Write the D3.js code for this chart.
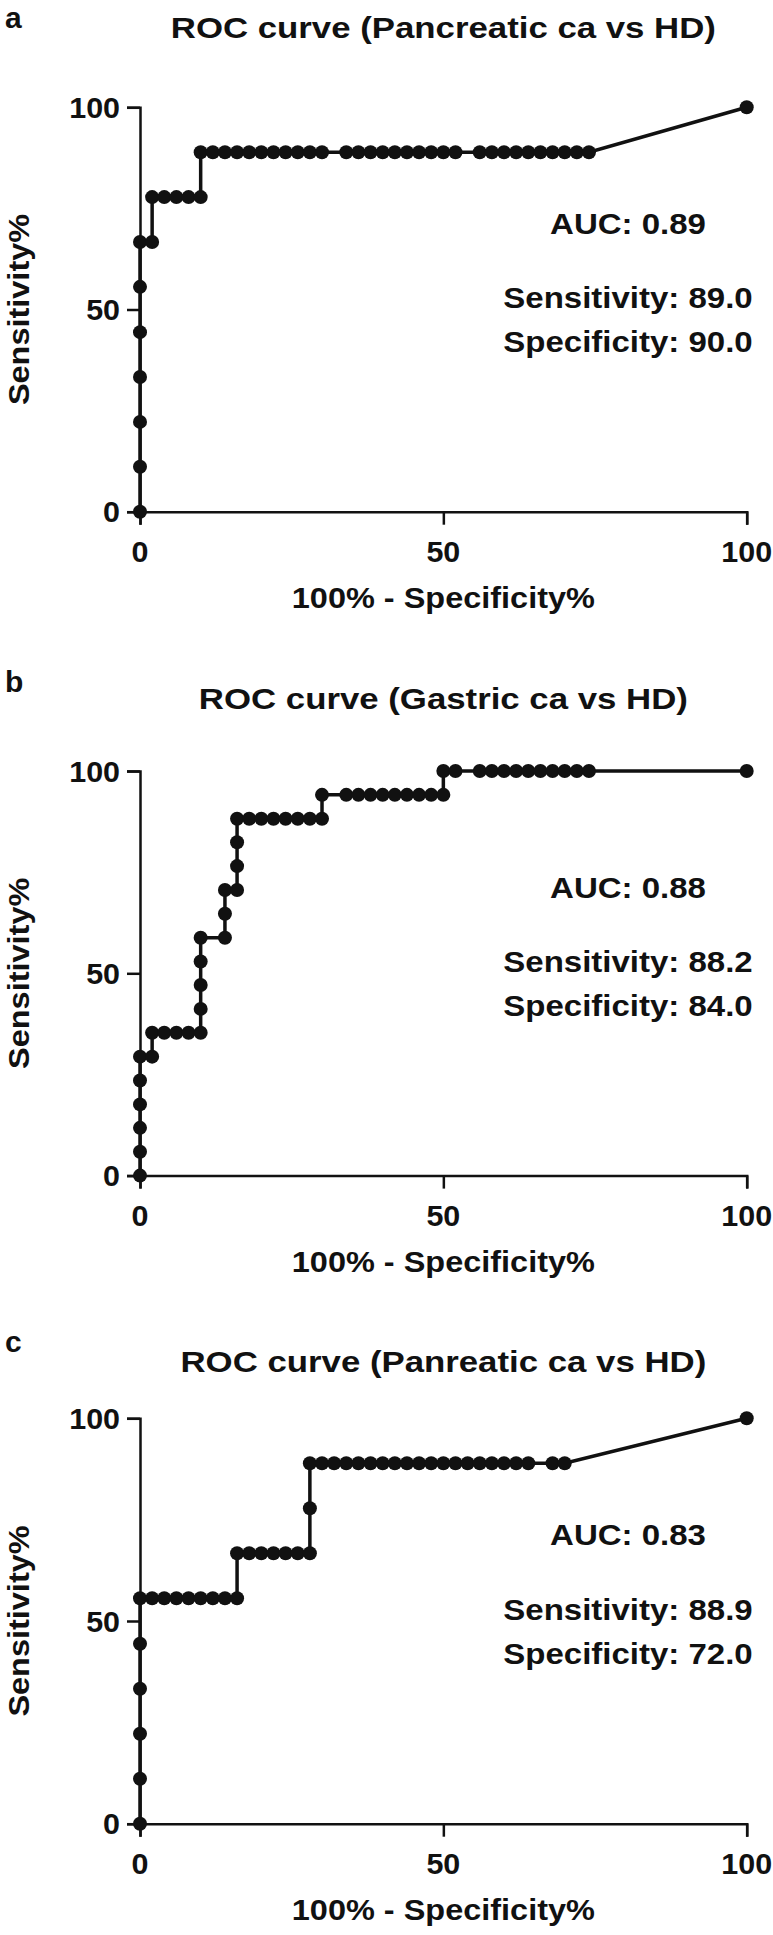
<!DOCTYPE html>
<html>
<head>
<meta charset="utf-8">
<script src="https://cdn.jsdelivr.net/npm/d3@7"></script>
<style>
  html, body { margin: 0; padding: 0; background: #ffffff; }
  svg { display: block; }
  text { font-family: "Liberation Sans", Arial, Helvetica, sans-serif; font-weight: bold; fill: #111111; }
</style>
</head>
<body>
<svg id="chart" width="773" height="1935"></svg>
<script>
// ---------- data ----------
const panelLetters = ["a", "b", "c"];
const panelTitles = [
  "ROC curve (Pancreatic ca vs HD)",
  "ROC curve (Gastric ca vs HD)",
  "ROC curve (Panreatic ca vs HD)"
];
const aucLabels = ["AUC: 0.89", "AUC: 0.88", "AUC: 0.83"];
const sensitivityLabels = ["Sensitivity: 89.0", "Sensitivity: 88.2", "Sensitivity: 88.9"];
const specificityLabels = ["Specificity: 90.0", "Specificity: 84.0", "Specificity: 72.0"];
const xTickValues = [0, 50, 100];
const yTickValues = [0, 50, 100];
const xAxisTitle = "100% - Specificity%";
const yAxisTitle = "Sensitivity%";

// Panel a: 100% - Specificity% (x) and Sensitivity% (y)
const rocA_fpr = [0, 0, 0, 0, 0, 0, 0,
  2, 2, 4, 6, 8, 10,
  10, 12, 14, 16, 18, 20, 22, 24, 26, 28, 30,
  34, 36, 38, 40, 42, 44, 46, 48, 50, 52,
  56, 58, 60, 62, 64, 66, 68, 70, 72, 74,
  100];
const rocA_sens = [0, 11.1, 22.2, 33.3, 44.4, 55.6, 66.7,
  66.7, 77.8, 77.8, 77.8, 77.8, 77.8,
  88.9, 88.9, 88.9, 88.9, 88.9, 88.9, 88.9, 88.9, 88.9, 88.9, 88.9,
  88.9, 88.9, 88.9, 88.9, 88.9, 88.9, 88.9, 88.9, 88.9, 88.9,
  88.9, 88.9, 88.9, 88.9, 88.9, 88.9, 88.9, 88.9, 88.9, 88.9,
  100];

// Panel b
const rocB_fpr = [0, 0, 0, 0, 0, 0,
  2, 2, 4, 6, 8, 10,
  10, 10, 10, 10,
  14, 14, 14,
  16, 16, 16, 16,
  18, 20, 22, 24, 26, 28, 30,
  30, 34, 36, 38, 40, 42, 44, 46, 48, 50,
  50, 52,
  56, 58, 60, 62, 64, 66, 68, 70, 72, 74,
  100];
const rocB_sens = [0, 5.9, 11.8, 17.6, 23.5, 29.4,
  29.4, 35.3, 35.3, 35.3, 35.3, 35.3,
  41.2, 47.1, 52.9, 58.8,
  58.8, 64.7, 70.6,
  70.6, 76.5, 82.4, 88.2,
  88.2, 88.2, 88.2, 88.2, 88.2, 88.2, 88.2,
  94.1, 94.1, 94.1, 94.1, 94.1, 94.1, 94.1, 94.1, 94.1, 94.1,
  100, 100,
  100, 100, 100, 100, 100, 100, 100, 100, 100, 100,
  100];

// Panel c
const rocC_fpr = [0, 0, 0, 0, 0, 0,
  2, 4, 6, 8, 10, 12, 14, 16,
  16, 18, 20, 22, 24, 26, 28,
  28, 28,
  30, 32, 34, 36, 38, 40, 42, 44, 46, 48, 50, 52, 54, 56, 58, 60, 62, 64,
  68, 70,
  100];
const rocC_sens = [0, 11.1, 22.2, 33.3, 44.4, 55.6,
  55.6, 55.6, 55.6, 55.6, 55.6, 55.6, 55.6, 55.6,
  66.7, 66.7, 66.7, 66.7, 66.7, 66.7, 66.7,
  77.8, 88.9,
  88.9, 88.9, 88.9, 88.9, 88.9, 88.9, 88.9, 88.9, 88.9, 88.9, 88.9, 88.9, 88.9, 88.9, 88.9, 88.9, 88.9, 88.9,
  88.9, 88.9,
  100];

const rocFpr = [rocA_fpr, rocB_fpr, rocC_fpr];
const rocSens = [rocA_sens, rocB_sens, rocC_sens];

// ---------- layout ----------
const INK = "#111111";
const plotLeft = 140, plotRight = 746.7;
const panelLayout = [
  { top: 107.3, bottom: 511.7, letterY: 28,   titleY: 38 },
  { top: 771.0, bottom: 1175.6, letterY: 692, titleY: 709 },
  { top: 1418.3, bottom: 1823.7, letterY: 1352, titleY: 1372 }
];
const FS = 30;        // main font size
const SX = 1.1;       // horizontal glyph width factor (wide Helvetica-like face)

const svg = d3.select("#chart");

function addText(g, str, x, y, anchor, size, sx, rotate) {
  return g.append("text")
    .attr("text-anchor", anchor)
    .attr("font-size", size)
    .attr("transform", `translate(${x},${y})` + (rotate ? ` rotate(${rotate})` : "") + ` scale(${sx},1)`)
    .text(str);
}

panelLayout.forEach((L, i) => {
  const g = svg.append("g");
  const x = d3.scaleLinear().domain([0, 100]).range([plotLeft, plotRight]);
  const y = d3.scaleLinear().domain([0, 100]).range([L.bottom, L.top]);

  // axes
  const xAxis = d3.axisBottom(x).tickValues(xTickValues).tickSize(13).tickFormat(d3.format("d"));
  const yAxis = d3.axisLeft(y).tickValues(yTickValues).tickSize(13).tickFormat(d3.format("d"));

  const gx = g.append("g").attr("transform", `translate(0,${L.bottom})`).call(xAxis);
  const gy = g.append("g").attr("transform", `translate(${plotLeft},0)`).call(yAxis);
  [gx, gy].forEach(ax => {
    ax.select(".domain").attr("stroke", INK).attr("stroke-width", 2.5);
    ax.selectAll(".tick line").attr("stroke", INK).attr("stroke-width", 2.5);
    ax.selectAll(".tick text").remove();
  });
  // tick labels (wide face)
  xTickValues.forEach(v => addText(g, String(v), x(v), L.bottom + 50, "middle", FS - 1, 1.05));
  yTickValues.forEach(v => addText(g, String(v), plotLeft - 20, y(v) + 10.5, "end", FS - 1, 1.05));

  // ROC line + dots
  const pts = rocFpr[i].map((f, k) => [f, rocSens[i][k]]);
  const line = d3.line().x(d => x(d[0])).y(d => y(d[1]));
  g.append("path").datum(pts)
    .attr("d", line)
    .attr("fill", "none")
    .attr("stroke", INK)
    .attr("stroke-width", 3.5)
    .attr("stroke-linejoin", "miter");
  g.append("g").selectAll("circle").data(pts).join("circle")
    .attr("cx", d => x(d[0]))
    .attr("cy", d => y(d[1]))
    .attr("r", 7)
    .attr("fill", INK);

  // texts
  addText(g, panelLetters[i], 5, L.letterY, "start", 30, 1.0);
  addText(g, panelTitles[i], (plotLeft + plotRight) / 2, L.titleY, "middle", FS, 1.16);
  addText(g, xAxisTitle, (plotLeft + plotRight) / 2, L.bottom + 96, "middle", FS - 1, 1.12);
  addText(g, yAxisTitle, 29, (L.top + L.bottom) / 2, "middle", FS - 1, 1.12, -90);

  const cx = 628;
  addText(g, aucLabels[i], cx, L.top + 127, "middle", FS, SX);
  addText(g, sensitivityLabels[i], cx, y(50) - 1.5, "middle", FS, SX);
  addText(g, specificityLabels[i], cx, y(50) + 42.5, "middle", FS, SX);
});
</script>
</body>
</html>
